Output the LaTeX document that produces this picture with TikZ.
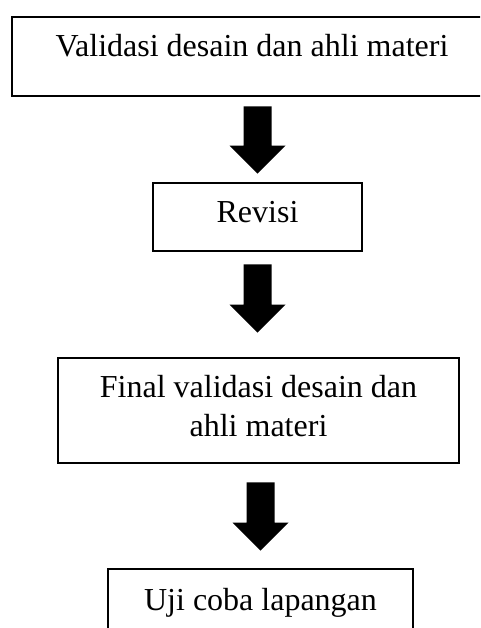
\documentclass[tikz,border=0pt]{standalone}
\usepackage{fontspec}
\setmainfont{Liberation Serif}
\usetikzlibrary{calc}
\tikzset{
  stepbox/.style={draw,line width=2.8pt,inner xsep=0pt,inner ysep=0pt,align=center,anchor=base,font=\fontsize{32}{39}\selectfont}
}
\newcommand{\blockdown}[2]{%
  \fill ($(#1)+(-14,0)$) -- ($(#1)+(14,0)$) -- ($(#2)+(14,28)$) -- ($(#2)+(28,28)$)
    -- (#2) -- ($(#2)+(-28,28)$) -- ($(#2)+(-14,28)$) -- cycle;}

\begin{document}
\begin{tikzpicture}[x=1pt,y=1pt]
  \useasboundingbox (0,0) rectangle (480,628);
  \clip (0,0) rectangle (480,628);
  \node[stepbox,minimum width=480pt,text height=40pt,text depth=39pt] (valid) at (252,571) {Validasi desain dan ahli materi};
  \node[stepbox,minimum width=209pt,text height=40pt,text depth=28pt] (rev) at (257.5,405) {Revisi};
  \node[stepbox,minimum width=401pt,text height=79pt,text depth=26pt] (final) at (258.5,191) {Final validasi desain dan\\ahli materi};
  \node[stepbox,minimum width=305pt,text height=42pt,text depth=30pt] (uji) at (260.5,17) {Uji coba lapangan};
  % block arrows between the steps
  \coordinate (a1top) at ($(valid.south -| rev.north)+(0,-9)$);
  \coordinate (a1tip) at ($(rev.north)+(0,8)$);
  \coordinate (a2top) at ($(rev.south)+(0,-12)$);
  \coordinate (a2tip) at ($(final.north -| rev.south)+(0,24)$);
  \coordinate (a3top) at ($(final.south -| uji.north)+(0,-18)$);
  \coordinate (a3tip) at ($(uji.north)+(0,17)$);
  \blockdown{a1top}{a1tip}
  \blockdown{a2top}{a2tip}
  \blockdown{a3top}{a3tip}
\end{tikzpicture}
\end{document}
